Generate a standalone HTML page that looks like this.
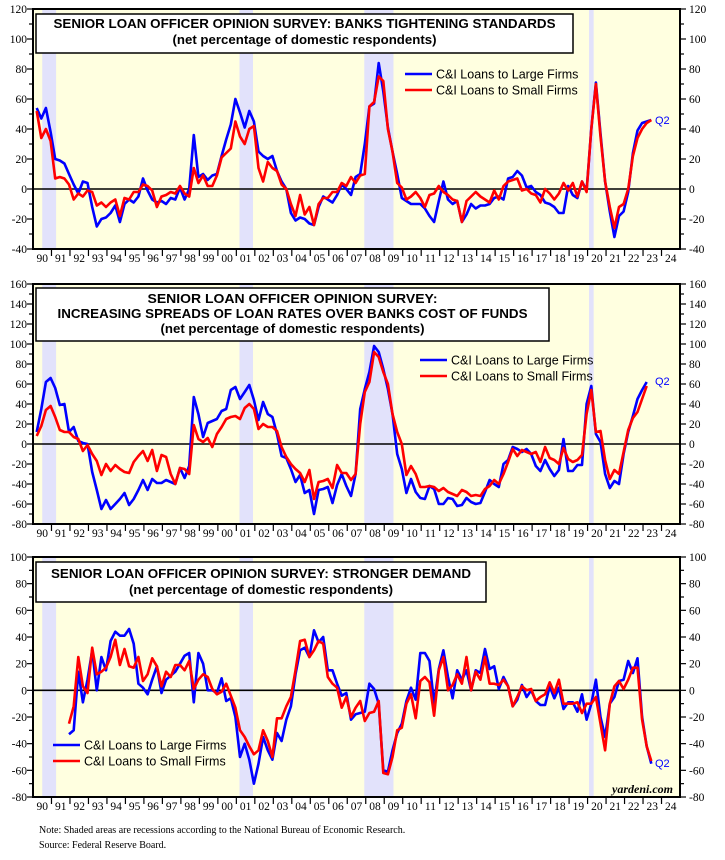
<!DOCTYPE html>
<html><head><meta charset="utf-8">
<style>
html,body{margin:0;padding:0;background:#fff;}
svg{display:block;}
</style></head>
<body>
<svg id="chart" width="725" height="860" viewBox="0 0 725 860" xmlns="http://www.w3.org/2000/svg"></svg>
<script>
// ---------- data (quarterly, starting 1990Q1; panel 3 starts 1991Q4) ----------
const yearLabels = ["90","91","92","93","94","95","96","97","98","99","00","01","02","03","04","05","06","07","08","09","10","11","12","13","14","15","16","17","18","19","20","21","22","23","24"];
const recessions = [[1990.5,1991.25],[2001.17,2001.9],[2007.92,2009.5],[2020.08,2020.33]];

const tightLarge = [54,47,54,
38,20,19,17, 10,3,-3,5, 4,-12,-25,-20, -19,-16,-11,-22, -10,-7,-9,-5, 7,-1,-7,-9, -8,-10,-6,-7,
1,-7,0,36, 8,10,6,9, 10,22,33,43, 60,51,41,52, 45,25,22,20, 22,12,5,0, -16,-21,-19,-20,
-23,-24,-12,-5, -7,-9,-4,3, 0,-4,8,10, 30,55,57,84, 65,41,25,10, -6,-8,-10,-10,
-10,-13,-18,-22, -8,5,-7,-10, -8,-22,-17,-10, -13,-11,-11,-10, -6,-5,-7,7, 8,12,9,1,
2,-2,-4,-9, -10,-12,-16,-16, 2,-4,-6,5, -1,40,71,37, 5,-15,-32,-18, -15,-2,24,39, 44,45,46];
const tightSmall = [52,34,40,
32,7,8,7, 3,-7,-3,-5, -1,-2,-11,-9, -12,-9,-7,-18, -6,-7,-2,-2, 3,2,-1,-12, -5,-4,-2,-3,
2,-3,-5,14, 4,9,2,2, 9,21,24,27, 45,35,30,40, 42,14,5,18, 14,12,3,0, -10,-18,-4,-17,
-12,-24,-10,-6, -6,-2,-2,4, 2,8,4,9, 10,55,58,75, 72,40,25,4, 1,-7,-5,-2,
-6,-12,-4,-3, 2,-2,-4,-7, -8,-22,-8,-5, -2,-5,-7,-9, -1,-7,2,5, 6,7,-1,0,
-3,-4,-9,0, -3,-7,-3,4, -1,4,-5,5, -2,40,70,35, 5,-12,-26,-12, -10,0,22,34, 40,44,46];

const spreadLarge = [12,35,62,
66,56,39,40, 12,17,3,1, 0,-28,-46,-65, -56,-65,-60,-55, -49,-61,-55,-46, -36,-46,-35,-39, -39,-36,-38,-40,
-24,-34,-22,47, 30,7,21,23, 25,33,35,54, 57,45,52,59, 44,24,42,30, 27,10,-12,-14, -25,-38,-31,-49,
-46,-70,-46,-45, -43,-59,-41,-30, -42,-52,-30,35, 55,72,98,92, 75,55,30,-10, -25,-49,-35,-48,
-54,-55,-42,-45, -60,-60,-54,-55, -62,-61,-54,-58, -60,-59,-48,-36, -40,-43,-20,-16, -3,-5,-8,-5,
-10,-22,-27,-16, -25,-32,-26,5, -27,-27,-21,-21, 40,58,10,2, -30,-44,-37,-40, -10,12,28,45, 54,62];
const spreadSmall = [8,18,34,
38,27,14,12, 12,7,5,-7, -1,-10,-17,-31, -20,-27,-21,-25, -28,-29,-18,-12, -7,-17,-6,-27, -11,-13,-30,-40,
-24,-25,-30,19, 5,2,6,-3, 10,17,25,27, 28,25,36,40, 35,15,20,17, 17,13,-3,-13, -20,-25,-29,-38,
-26,-55,-38,-37, -35,-44,-21,-29, -29,-36,-30,20, 52,62,92,87, 72,60,30,12, 0,-31,-22,-30,
-43,-43,-42,-43, -47,-44,-48,-50, -52,-46,-48,-52, -51,-52,-45,-42, -36,-40,-30,-18, -5,-12,-6,-8,
-10,-8,-18,-3, -14,-16,-20,-4, -15,-18,-16,-11, 30,54,12,13, -16,-35,-26,-30, -8,14,26,32, 45,58];

const demandStart = 7; // 1991Q4
const demandLarge = [-33,
-30,14,-9,8, 30,0,25,15, 37,44,41,41, 46,35,5,2, -3,8,18,-2, 8,11,14,20, 26,28,-9,28, 20,0,0,-2,
9,-8,-6,-20, -50,-40,-52,-70, -55,-35,-45,-52, -32,-38,-22,-12, 12,30,32,25, 45,36,40,15, 15,5,-4,-2,
-22,-18,-17,-16, 5,1,-10,-60, -61,-45,-32,-25, -8,2,-7,28, 28,22,-10,16, 30,10,-6,15, 8,15,0,15,
13,31,16,18, 1,10,3,-12, -7,4,-5,0, -8,-11,-11,3, -6,2,-14,-9, -9,-16,-3,-22, -10,8,-20,-35,
-10,-5,7,8, 22,13,24,-20, -42,-55];
const demandSmall = [-25,
-12,25,3,-2, 32,12,14,17, 25,38,19,31, 18,17,25,7, 12,24,18,3, 14,10,19,19, 15,22,1,8, 12,10,1,-3,
-1,5,-4,-13, -30,-35,-42,-48, -45,-30,-38,-50, -21,-21,-12,-5, 15,37,38,25, 30,37,35,10, 5,2,-13,-5,
-20,-13,-8,-23, -17,-16,-8,-62, -63,-50,-30,-28, -10,-3,-21,7, 10,6,-19,15, 25,0,4,12, 5,25,0,14,
8,25,5,5, 4,8,3,-12, -5,3,0,1, -8,-5,-3,6, -2,8,-10,-10, -10,-9,-17,-10, -10,-5,-25,-45,
-10,3,7,1, 8,17,17,-22, -42,-53];

// ---------- layout ----------
const NS = "http://www.w3.org/2000/svg";
const svg = document.getElementById("chart");
const X0 = 33, X1 = 680, T0 = 1990, T1 = 2025;
function xOf(t){ return X0 + (t - T0) * (X1 - X0) / (T1 - T0); }
function qTime(i){ return T0 + i/4 + 0.2; }
function mk(tag, attrs, parent){
  const e = document.createElementNS(NS, tag);
  for (const k in attrs) e.setAttribute(k, attrs[k]);
  (parent || svg).appendChild(e);
  return e;
}

const panels = [
  {name:"tightening", top:9, bottom:249, min:-40, max:120, step:20,
   series:[[tightLarge,0,"#0000ff"],[tightSmall,0,"#ff0000"]],
   box:[36,14,537,39], titles:[["SENIOR LOAN OFFICER OPINION SURVEY: BANKS TIGHTENING STANDARDS",28,502],["(net percentage of domestic respondents)",44,264]],
   legend:[405,74], q2:[655,124]},
  {name:"spreads", top:284, bottom:524, min:-80, max:160, step:20,
   series:[[spreadLarge,0,"#0000ff"],[spreadSmall,0,"#ff0000"]],
   box:[36,288,513,53], titles:[["SENIOR LOAN OFFICER OPINION SURVEY:",303,290],["INCREASING SPREADS OF LOAN RATES OVER BANKS COST OF FUNDS",318,470],["(net percentage of domestic respondents)",333,264]],
   legend:[420,360], q2:[655,385]},
  {name:"demand", top:557, bottom:797, min:-80, max:100, step:20,
   series:[[demandLarge,demandStart,"#0000ff"],[demandSmall,demandStart,"#ff0000"]],
   box:[36,562,450,40], titles:[["SENIOR LOAN OFFICER OPINION SURVEY: STRONGER DEMAND",578,420],["(net percentage of domestic respondents)",594,264]],
   legend:[53,745], q2:[655,767]}
];

panels.forEach(function(p){
  const g = mk("g", {});
  
  
  function yOf(v){ return p.bottom - (v - p.min) * (p.bottom - p.top) / (p.max - p.min); }
  // background
  const bg = mk("rect", {x:X0, y:p.top, width:X1-X0, height:p.bottom-p.top, fill:"#ffffe0"}, g);
  
  
  recessions.forEach(function(r){
    const rr = mk("rect", {x:xOf(r[0]), y:p.top, width:xOf(r[1])-xOf(r[0]), height:p.bottom-p.top, fill:"#e2e2fb"}, g);
    
    
  });
  // zero line
  const z = mk("line", {x1:X0, x2:X1, y1:yOf(0), y2:yOf(0), stroke:"#000", "stroke-width":1.6}, g);
  
  
  // y ticks
  for (let v = p.min; v <= p.max; v += p.step/2){
    const major = (v - p.min) % p.step === 0;
    const len = major ? 6 : 4;
    mk("line", {x1:X0-len, x2:X0, y1:yOf(v), y2:yOf(v), stroke:"#000", "stroke-width":1.2}, g);
    mk("line", {x1:X1, x2:X1+len, y1:yOf(v), y2:yOf(v), stroke:"#000", "stroke-width":1.2}, g);
    if (major){
      const tl = mk("text", {x:X0-6, y:yOf(v)+4, "text-anchor":"end", "font-family":"Liberation Serif, serif", "font-size":"11.5", fill:"#000"}, g);
      tl.textContent = v;
      
      
      const tr = mk("text", {x:X1+9, y:yOf(v)+4, "text-anchor":"start", "font-family":"Liberation Serif, serif", "font-size":"11.5", fill:"#000"}, g);
      tr.textContent = v;
      
      
    }
  }
  // x ticks
  yearLabels.forEach(function(lab, i){
    const t = T0 + i;
    if (i > 0) mk("line", {x1:xOf(t), x2:xOf(t), y1:p.bottom, y2:p.bottom+7, stroke:"#000", "stroke-width":1.2}, g);
    const xl = mk("text", {x:xOf(t+0.5), y:p.bottom+13, "text-anchor":"middle", "font-family":"Liberation Serif, serif", "font-size":"11.5", fill:"#000"}, g);
    xl.textContent = lab;
    
    
  });
  // series
  p.series.forEach(function(s, si){
    const arr = s[0], start = s[1];
    let d = "";
    arr.forEach(function(v, i){
      d += (i ? "L" : "M") + xOf(qTime(start + i)).toFixed(1) + "," + yOf(v).toFixed(1);
    });
    const path = mk("path", {d:d, fill:"none", stroke:s[2], "stroke-width":2.6, "stroke-linejoin":"round"}, g);
    
    
  });
  // frame
  const fr = mk("rect", {x:X0, y:p.top, width:X1-X0, height:p.bottom-p.top, fill:"none", stroke:"#000", "stroke-width":2}, g);
  
  
  // title box
  const tb = mk("rect", {x:p.box[0], y:p.box[1], width:p.box[2], height:p.box[3], fill:"#fff", stroke:"#000", "stroke-width":1.5}, g);
  
  
  const cx = p.box[0] + p.box[2]/2;
  p.titles.forEach(function(tt){
    const te = mk("text", {x:cx, y:tt[1], "text-anchor":"middle", "font-family":"Liberation Sans, sans-serif", "font-size":"13", "font-weight":"bold", fill:"#000", textLength:tt[2], lengthAdjust:"spacingAndGlyphs"}, g);
    te.textContent = tt[0];
    
    
  });
  // legend
  const lx = p.legend[0], ly = p.legend[1];
  [["C&I Loans to Large Firms","#0000ff"],["C&I Loans to Small Firms","#ff0000"]].forEach(function(le, k){
    const yy = ly + k*16;
    const ll = mk("line", {x1:lx, x2:lx+27, y1:yy, y2:yy, stroke:le[1], "stroke-width":2.6}, g);
    
    
    const lt = mk("text", {x:lx+31, y:yy+4.5, "font-family":"Liberation Sans, sans-serif", "font-size":"12.5", fill:"#000"}, g);
    lt.textContent = le[0];
    
    
  });
  const q = mk("text", {x:p.q2[0], y:p.q2[1], "font-family":"Liberation Sans, sans-serif", "font-size":"11", fill:"#0000ff"}, g);
  q.textContent = "Q2";
  
  
});

const yd = mk("text", {x:673, y:793, "text-anchor":"end", "font-family":"Liberation Serif, serif", "font-size":"12", "font-style":"italic", "font-weight":"bold", fill:"#000"});
yd.textContent = "yardeni.com";


const n1 = mk("text", {x:39, y:833, "font-family":"Liberation Serif, serif", "font-size":"10", fill:"#000"});
n1.textContent = "Note: Shaded areas are recessions according to the National Bureau of Economic Research.";


const n2 = mk("text", {x:39, y:848, "font-family":"Liberation Serif, serif", "font-size":"10", fill:"#000"});
n2.textContent = "Source: Federal Reserve Board.";


</script>
</body></html>
